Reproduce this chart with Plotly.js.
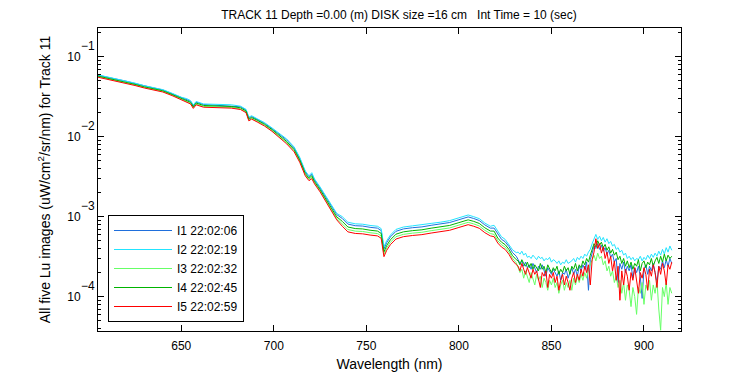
<!DOCTYPE html>
<html>
<head>
<meta charset="utf-8">
<script src="https://cdn.plot.ly/plotly-3.0.1.min.js"></script>
<style>html,body{margin:0;padding:0;background:#fff;}#chart{width:750px;height:375px;}</style>
</head>
<body>
<div id="chart"></div>
<script>
// Wavelength grid (nm)
var wavelength = [605,610,615,620,625,630,635,640,645,650,
653,655,656.5,658,662,667,672,677,682,685,686.5,688,691,695,699,
703,707,711,714,717,719,720.5,722,725,728,731,734,
737,740,744,748,752,756,758,759.5,761,763,766,770,775,780,785,790,795,800,805,808,811,814,817,819,821,823,825,827,829,831,
832,833,834,835,836,837,838,839,840,841,842,843,844,845,846,847,848,849,850,851,
852,853,854,855,856,857,858,859,860,861,862,863,864,865,866,867,868,869,870,871,
872,873,874,875,876,877,878,879,880,881,882,883,884,885,886,887,888,889,890,891,
892,893,894,895,896,897,898,899,900,901,902,903,904,905,906,907,908,909,910,911,
912,913,914,915];

// I1 22:02:06
var i1 = [.0588,.0557,.0519,.0496,.0463,.0431,.0408,.0385,.0347,.0310,
.0294,.0278,.0244,.0271,.0253,.0249,.0247,.0246,.0237,.0216,.0171,.0179,.0165,.0147,.0126,
.0108,.00911,.00724,.00536,.00363,.00316,.00340,.00288,.00228,.00177,.00136,.00106,
.000949,.000808,.000771,.000763,.000736,.000719,.000671,.000395,.000475,.000559,.000656,.000703,.000728,.000745,.000780,.000808,.000845,.000916,.000993,.000949,.000895,.000789,.000719,.00072,.00060,.000521,.000486,.000424,.000355,.000320,
2.9e-4,2.6e-4,2.8e-4,2.4e-4,2.7e-4,2.3e-4,2.5e-4,2.2e-4,2.6e-4,2.3e-4,2.0e-4,2.4e-4,2.2e-4,2.5e-4,2.1e-4,1.8e-4,2.3e-4,2.1e-4,1.9e-4,2.2e-4,
2.0e-4,1.8e-4,2.1e-4,1.6e-4,2.0e-4,1.9e-4,2.2e-4,1.7e-4,2.0e-4,2.3e-4,1.9e-4,2.2e-4,1.8e-4,2.4e-4,2.1e-4,2.5e-4,2.2e-4,2.7e-4,1.2e-4,2.9e-4,
3.5e-4,4.3e-4,4.0e-4,4.6e-4,3.9e-4,4.4e-4,3.7e-4,4.1e-4,3.4e-4,3.8e-4,3.1e-4,3.4e-4,2.7e-4,3.0e-4,1.5e-4,2.6e-4,2.2e-4,2.7e-4,2.0e-4,2.4e-4,
2.1e-4,2.5e-4,1.7e-4,2.3e-4,2.0e-4,2.4e-4,1.8e-4,0.95e-4,2.2e-4,2.5e-4,1.9e-4,2.4e-4,2.1e-4,2.6e-4,2.0e-4,1.5e-4,2.4e-4,2.2e-4,2.8e-4,2.3e-4,
2.9e-4,2.4e-4,3.0e-4,2.6e-4];

// I2 22:02:19
var i2 = [.0594,.0562,.0524,.0501,.0468,.0435,.0412,.0388,.0350,.0312,
.0299,.0283,.0250,.0276,.0257,.0254,.0252,.0251,.0241,.0220,.0176,.0183,.0168,.0150,.0129,
.0111,.00935,.00743,.00551,.00373,.00324,.00355,.00296,.00235,.00182,.00140,.00110,
.00100,.000853,.000814,.000805,.000777,.000759,.000709,.000422,.000502,.000590,.000693,.000742,.000768,.000787,.000824,.000853,.000892,.000968,.00105,.00100,.000945,.000833,.000759,.00078,.00066,.000560,.000520,.000455,.000385,.000355,
3.6e-4,3.4e-4,3.7e-4,3.3e-4,3.5e-4,3.1e-4,3.2e-4,3.0e-4,3.3e-4,3.1e-4,2.9e-4,3.2e-4,3.0e-4,3.1e-4,2.8e-4,3.0e-4,2.9e-4,3.1e-4,2.7e-4,2.9e-4,
2.8e-4,2.6e-4,2.8e-4,2.5e-4,2.7e-4,2.6e-4,2.9e-4,2.6e-4,2.7e-4,2.8e-4,3.0e-4,2.7e-4,3.1e-4,2.9e-4,3.2e-4,3.0e-4,3.4e-4,3.2e-4,3.6e-4,3.9e-4,
4.6e-4,5.4e-4,6.0e-4,5.2e-4,5.7e-4,5.0e-4,5.5e-4,4.8e-4,5.3e-4,4.6e-4,4.9e-4,4.3e-4,4.5e-4,3.9e-4,4.1e-4,3.6e-4,3.8e-4,3.3e-4,3.5e-4,3.0e-4,
3.2e-4,2.9e-4,3.1e-4,2.8e-4,3.0e-4,2.9e-4,3.2e-4,2.8e-4,3.1e-4,2.9e-4,3.3e-4,3.0e-4,3.4e-4,3.1e-4,3.5e-4,3.2e-4,3.7e-4,3.3e-4,3.9e-4,3.4e-4,
4.1e-4,3.6e-4,4.3e-4,3.8e-4];

// I3 22:02:32
var i3 = [.0566,.0536,.0500,.0477,.0446,.0415,.0393,.0370,.0334,.0298,
.0277,.0262,.0231,.0256,.0239,.0236,.0234,.0233,.0223,.0204,.0161,.0169,.0156,.0139,.0119,
.0100,.00841,.00669,.00496,.00335,.00292,.00312,.00266,.00211,.00164,.00124,.000950,
.000812,.000691,.000660,.000653,.000630,.000615,.000575,.000338,.000407,.000478,.000562,.000601,.000623,.000638,.000668,.000691,.000723,.000784,.000850,.000812,.000766,.000675,.000615,.00060,.00050,.000446,.000416,.000363,.000300,.000265,
2.3e-4,2.0e-4,2.2e-4,1.7e-4,2.1e-4,1.8e-4,1.5e-4,2.0e-4,1.7e-4,1.4e-4,1.9e-4,1.6e-4,1.8e-4,1.3e-4,1.7e-4,1.5e-4,1.2e-4,1.6e-4,1.4e-4,1.7e-4,
1.3e-4,1.5e-4,1.1e-4,1.4e-4,1.6e-4,1.2e-4,1.5e-4,1.3e-4,1.6e-4,1.2e-4,1.7e-4,1.4e-4,1.8e-4,1.5e-4,1.9e-4,1.6e-4,2.0e-4,1.7e-4,2.2e-4,2.5e-4,
2.9e-4,3.3e-4,2.8e-4,3.5e-4,3.0e-4,3.2e-4,2.5e-4,2.8e-4,2.1e-4,2.4e-4,1.8e-4,2.1e-4,1.5e-4,1.8e-4,1.3e-4,1.6e-4,1.1e-4,1.5e-4,0.9e-4,1.4e-4,
1.2e-4,0.75e-4,1.3e-4,1.0e-4,0.6e-4,1.3e-4,1.1e-4,1.5e-4,0.8e-4,1.4e-4,1.2e-4,1.6e-4,0.9e-4,1.4e-4,1.1e-4,1.6e-4,0.7e-4,0.38e-4,1.3e-4,1.0e-4,
1.5e-4,0.8e-4,1.3e-4,1.1e-4];

// I4 22:02:45
var i4 = [.0574,.0543,.0507,.0484,.0452,.0421,.0398,.0376,.0338,.0302,
.0286,.0270,.0237,.0264,.0246,.0243,.0240,.0239,.0230,.0210,.0166,.0174,.0161,.0143,.0123,
.0103,.00870,.00691,.00513,.00347,.00302,.00325,.00275,.00218,.00169,.00129,.000995,
.000873,.000743,.000710,.000702,.000677,.000661,.000618,.000363,.000437,.000514,.000604,.000646,.000669,.000685,.000718,.000743,.000777,.000843,.000913,.000873,.000823,.000726,.000661,.00066,.00054,.000480,.000447,.000390,.000325,.000290,
2.8e-4,2.5e-4,2.9e-4,2.6e-4,2.4e-4,2.7e-4,2.3e-4,2.6e-4,2.2e-4,2.5e-4,2.3e-4,2.1e-4,2.6e-4,2.2e-4,2.4e-4,2.0e-4,2.5e-4,2.2e-4,2.0e-4,2.3e-4,
2.1e-4,2.4e-4,1.9e-4,2.2e-4,2.0e-4,2.4e-4,2.1e-4,2.3e-4,1.9e-4,2.4e-4,2.2e-4,2.6e-4,2.1e-4,2.5e-4,2.3e-4,2.8e-4,2.5e-4,3.0e-4,2.7e-4,3.3e-4,
3.9e-4,4.6e-4,4.2e-4,5.0e-4,4.4e-4,4.8e-4,4.1e-4,4.5e-4,3.8e-4,4.2e-4,3.5e-4,3.9e-4,3.3e-4,3.6e-4,2.9e-4,3.2e-4,2.6e-4,3.0e-4,2.4e-4,2.8e-4,
2.3e-4,2.7e-4,2.2e-4,2.6e-4,2.4e-4,2.9e-4,2.1e-4,2.6e-4,2.8e-4,2.3e-4,2.7e-4,2.5e-4,3.0e-4,2.4e-4,2.8e-4,3.1e-4,2.6e-4,3.2e-4,2.7e-4,3.4e-4,
2.8e-4,3.3e-4,3.0e-4,3.2e-4];

// I5 22:02:59
var i5 = [.0555,.0525,.0490,.0468,.0437,.0407,.0385,.0363,.0327,.0292,
.0272,.0257,.0226,.0251,.0234,.0231,.0229,.0228,.0219,.0200,.0158,.0166,.0153,.0136,.0117,
.00966,.00813,.00646,.00479,.00324,.00282,.00299,.00257,.00204,.00158,.00120,.000912,
.000759,.000646,.000617,.000610,.000589,.000575,.000537,.000316,.000380,.000447,.000525,.000562,.000582,.000596,.000624,.000646,.000676,.000733,.000794,.000759,.000716,.000631,.000575,.000562,.000468,.000417,.000389,.000339,.000282,.000251,
2.4e-4,2.1e-4,2.6e-4,2.2e-4,1.9e-4,2.3e-4,2.0e-4,1.7e-4,2.2e-4,1.9e-4,2.1e-4,1.6e-4,1.3e-4,2.0e-4,1.8e-4,2.1e-4,1.3e-4,1.9e-4,1.7e-4,2.0e-4,
1.5e-4,1.8e-4,1.2e-4,1.6e-4,1.9e-4,1.4e-4,1.8e-4,1.5e-4,1.2e-4,1.7e-4,2.0e-4,1.5e-4,1.9e-4,1.6e-4,2.2e-4,1.8e-4,2.4e-4,2.0e-4,2.5e-4,1.4e-4,
2.9e-4,3.6e-4,5.3e-4,4.0e-4,4.6e-4,3.5e-4,4.2e-4,3.0e-4,3.6e-4,2.6e-4,3.2e-4,2.1e-4,2.8e-4,1.6e-4,2.4e-4,0.9e-4,2.1e-4,1.4e-4,2.2e-4,1.8e-4,
1.2e-4,2.0e-4,1.6e-4,2.3e-4,1.5e-4,1.1e-4,2.0e-4,1.7e-4,2.3e-4,1.9e-4,1.2e-4,2.2e-4,1.8e-4,2.5e-4,2.0e-4,1.3e-4,2.4e-4,1.9e-4,2.6e-4,2.1e-4,
1.4e-4,2.5e-4,2.2e-4,2.7e-4];

var seriesNames = ['I1 22:02:06','I2 22:02:19','I3 22:02:32','I4 22:02:45','I5 22:02:59'];
var seriesColors = ['#1f6fdc','#22e4ff','#66ff66','#00b400','#ff0000'];
var xTickVals = [650,700,750,800,850,900];
var yTickVals = [1e-4,1e-3,1e-2,1e-1];
var yTickBase = ['10','10','10','10'];
var yTickExp = ['\u22124','\u22123','\u22122','\u22121'];

var seriesData = [i1,i2,i3,i4,i5];
var traces = seriesData.map(function(s, k){
  return {x: wavelength, y: s, type:'scatter', mode:'lines', name: seriesNames[k],
          line:{color: seriesColors[k], width:1}};
});

// exponent parts of the y tick labels, placed on the y axis scale
var expAnnotations = yTickVals.map(function(v, k){
  return {xref:'paper', x:0, xanchor:'right', xshift:-2, yref:'y', y:Math.log10(v), yanchor:'middle',
          yshift:11, text: yTickExp[k], showarrow:false, font:{size:12, color:'#000'}, borderpad:0};
});

var layout = {
  width:750, height:375,
  margin:{l:98, r:69, t:28, b:44},
  paper_bgcolor:'#fff', plot_bgcolor:'#fff',
  font:{family:'"Liberation Sans", Arial, sans-serif', size:12, color:'#000'},
  title:{text:'TRACK 11 Depth =0.00 (m) DISK size =16 cm\u00a0\u00a0 Int Time = 10 (sec)',
         x:399/750, xref:'container', xanchor:'center', y:1-15/375, yref:'container', yanchor:'middle',
         font:{size:12}},
  xaxis:{range:[605,920], tickmode:'array', tickvals:xTickVals, ticks:'inside', ticklen:6, tickcolor:'#000',
         ticklabelstandoff:4,
         showline:true, linecolor:'#000', linewidth:1, mirror:'ticks', showgrid:false, zeroline:false,
         title:{text:'Wavelength (nm)', standoff:6}},
  yaxis:{type:'log', range:[-4.43,-0.64], tickmode:'array', tickvals:yTickVals, ticktext:yTickBase,
         ticks:'inside', ticklen:6, tickcolor:'#000', showline:true, linecolor:'#000', linewidth:1,
         ticklabelstandoff:14,
         mirror:'ticks', showgrid:false, zeroline:false,
         minor:{dtick:'D1', ticks:'inside', ticklen:3, tickcolor:'#000', showgrid:false},
         title:{text:'All five Lu images (uW/cm<sup>2</sup>/sr/nm) for Track 11', standoff:13}},
  legend:{x:10/583, y:9/303, xanchor:'left', yanchor:'bottom', bgcolor:'#fff', bordercolor:'#000', borderwidth:1,
          itemwidth:58, font:{size:12}},
  annotations: expAnnotations,
  showlegend:true
};
Plotly.newPlot('chart', traces, layout, {staticPlot:true, displayModeBar:false});
</script>
</body>
</html>
